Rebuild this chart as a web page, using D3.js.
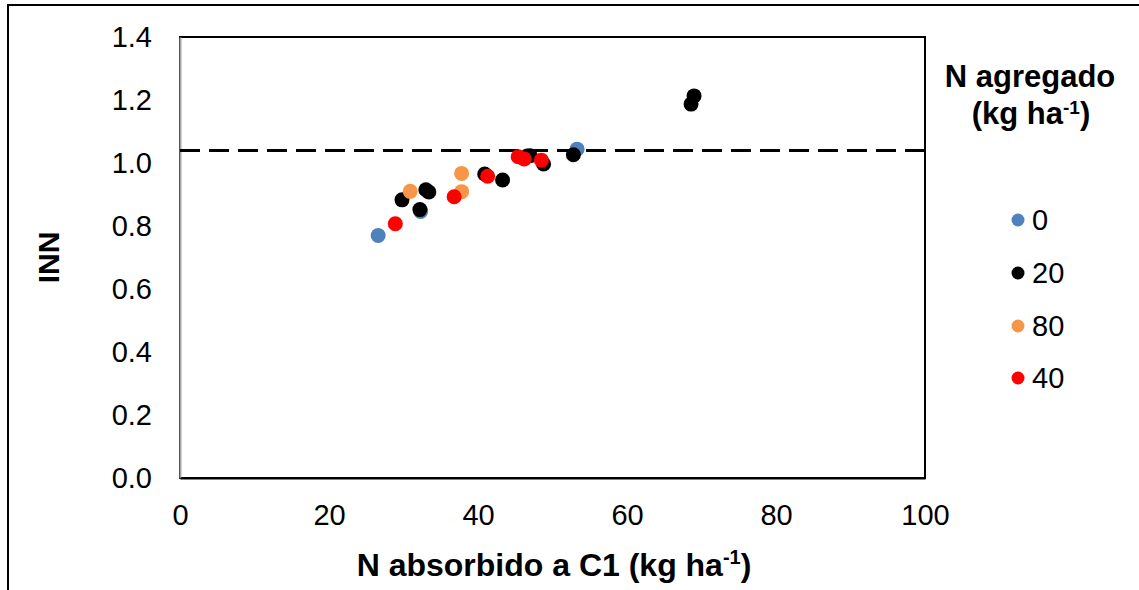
<!DOCTYPE html>
<html>
<head>
<meta charset="utf-8">
<script src="https://cdn.jsdelivr.net/npm/d3@7"></script>
<style>
  html, body { margin: 0; padding: 0; background: #fff; }
  svg { display: block; font-family: "Liberation Sans", Arial, sans-serif; }
</style>
</head>
<body>
<svg id="chart" width="1139" height="590"></svg>
<script>
// ---- data ----
const seriesNames = ["0", "20", "80", "40"];
const seriesColors = ["#4F81BD", "#000000", "#F79646", "#FF0000"];
const s0x = [26.6, 32.3, 53.3];
const s0y = [0.770, 0.846, 1.044];
const s20x = [29.8, 32.2, 33.0, 33.4, 40.9, 43.3, 46.6, 47.0, 48.8, 52.8, 68.6, 69.0];
const s20y = [0.883, 0.852, 0.915, 0.908, 0.965, 0.946, 1.022, 1.023, 0.997, 1.026, 1.187, 1.213];
const s80x = [30.9, 37.8, 37.8];
const s80y = [0.910, 0.967, 0.909];
const s40x = [28.9, 36.8, 41.3, 45.4, 46.2, 48.5];
const s40y = [0.807, 0.893, 0.958, 1.020, 1.013, 1.009];
const refLineY = 1.04;
const xTicks = [0, 20, 40, 60, 80, 100];
const yTicks = [0.0, 0.2, 0.4, 0.6, 0.8, 1.0, 1.2, 1.4];

const seriesX = [s0x, s20x, s80x, s40x];
const seriesY = [s0y, s20y, s80y, s40y];

const svg = d3.select("#chart");
const W = 1139, H = 590;

// outer chart border (left & top visible)
svg.append("rect").attr("x", 8).attr("y", 5).attr("width", W + 20).attr("height", H + 20)
  .attr("fill", "#fff").attr("stroke", "#000").attr("stroke-width", 2);

const plot = { left: 180, right: 925, top: 37, bottom: 478 };
const x = d3.scaleLinear().domain([0, 100]).range([plot.left, plot.right]);
const y = d3.scaleLinear().domain([0, 1.4]).range([plot.bottom, plot.top]);

// plot area border
svg.append("rect").attr("x", plot.left).attr("y", plot.top)
  .attr("width", plot.right - plot.left).attr("height", plot.bottom - plot.top)
  .attr("fill", "none").attr("stroke", "#000").attr("stroke-width", 2);

// y axis (gray line)
const yAxis = d3.axisLeft(y).tickValues(yTicks).tickFormat(d3.format(".1f")).tickSize(0).tickPadding(28);
const gy = svg.append("g").attr("transform", `translate(${plot.left},0)`).call(yAxis);
gy.select(".domain").attr("stroke", "#A6A6A6").attr("stroke-width", 2);
gy.selectAll("text").attr("font-size", 29).attr("fill", "#000")
  .attr("font-family", "Liberation Sans, Arial, sans-serif");

// x axis
const xAxis = d3.axisBottom(x).tickValues(xTicks).tickFormat(d3.format("d")).tickSize(0).tickPadding(26);
const gx = svg.append("g").attr("transform", `translate(0,${plot.bottom})`).call(xAxis);
gx.select(".domain").attr("stroke", "#000").attr("stroke-width", 2);
gx.selectAll("text").attr("font-size", 29).attr("fill", "#000")
  .attr("font-family", "Liberation Sans, Arial, sans-serif");

// dashed reference line
svg.append("line")
  .attr("x1", x(0)).attr("x2", x(100))
  .attr("y1", y(refLineY)).attr("y2", y(refLineY))
  .attr("stroke", "#000").attr("stroke-width", 3).attr("stroke-dasharray", "20,9");

// points
seriesNames.forEach((name, i) => {
  const pts = seriesX[i].map((v, j) => [v, seriesY[i][j]]);
  svg.append("g").selectAll("circle").data(pts).join("circle")
    .attr("cx", d => x(d[0])).attr("cy", d => y(d[1])).attr("r", 7.5)
    .attr("fill", seriesColors[i]);
});

// axis titles
const xt = svg.append("text").attr("x", 554).attr("y", 576)
  .attr("text-anchor", "middle").attr("font-size", 32).attr("font-weight", "bold");
xt.append("tspan").text("N absorbido a C1 (kg ha");
xt.append("tspan").text("-1").attr("font-size", 20).attr("dy", -12);
xt.append("tspan").text(")").attr("dy", 12);

svg.append("text").attr("transform", `translate(59,${(plot.top + plot.bottom) / 2}) rotate(-90)`)
  .attr("text-anchor", "middle").attr("font-size", 30).attr("font-weight", "bold").text("INN");

// legend
svg.append("text").attr("x", 1030).attr("y", 87).attr("text-anchor", "middle")
  .attr("font-size", 31).attr("font-weight", "bold").text("N agregado");
const lt = svg.append("text").attr("x", 1031).attr("y", 124).attr("text-anchor", "middle")
  .attr("font-size", 31).attr("font-weight", "bold");
lt.append("tspan").text("(kg ha");
lt.append("tspan").text("-1").attr("font-size", 19).attr("dy", -10);
lt.append("tspan").text(")").attr("dy", 10);

const legendY = [220, 273, 326, 378];
seriesNames.forEach((name, i) => {
  svg.append("circle").attr("cx", 1018).attr("cy", legendY[i]).attr("r", 6.5).attr("fill", seriesColors[i]);
  svg.append("text").attr("x", 1032).attr("y", legendY[i] + 10).attr("font-size", 29).text(name);
});
</script>
</body>
</html>
